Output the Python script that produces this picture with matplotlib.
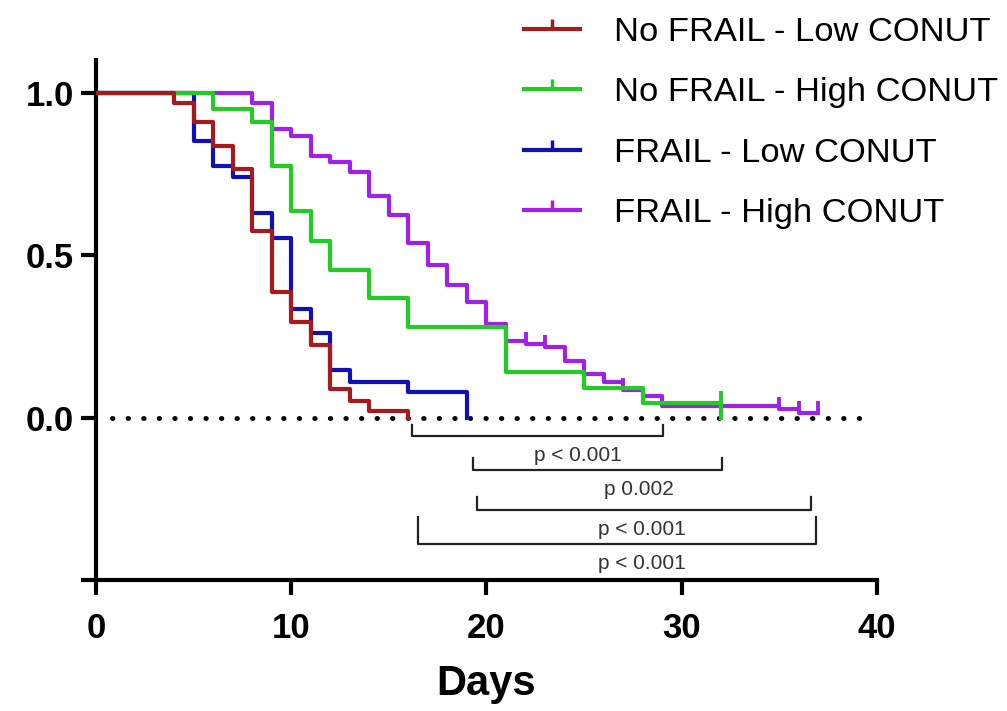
import matplotlib
matplotlib.use("Agg")
import matplotlib.pyplot as plt
from matplotlib.lines import Line2D
from matplotlib.markers import TICKUP

plt.rcParams['font.family'] = ['Liberation Sans', 'DejaVu Sans']

# Kaplan-Meier step data (days, survival)
red_t = [0, 4, 5, 6, 7, 8, 9, 10, 11, 12, 13, 14, 16]
red_s = [1.0, 0.970, 0.909, 0.835, 0.766, 0.575, 0.386, 0.294, 0.224, 0.089, 0.050, 0.022, 0.0]

blue_t = [0, 5, 6, 7, 8, 9, 10, 11, 12, 13, 16, 19]
blue_s = [1.0, 0.851, 0.774, 0.741, 0.629, 0.554, 0.336, 0.261, 0.148, 0.111, 0.079, 0.0]

green_t = [0, 6, 8, 9, 10, 11, 12, 14, 16, 21, 25, 28, 32]
green_s = [1.0, 0.950, 0.909, 0.774, 0.636, 0.544, 0.455, 0.367, 0.278, 0.140, 0.091, 0.046, 0.0]
green_cens_t = [32]
green_cens_s = [0.046]

purple_t = [0, 8, 9, 10, 11, 12, 13, 14, 15, 16, 17, 18, 19, 20, 21, 22, 23, 24,
            25, 26, 27, 28, 29, 35, 36, 37]
purple_s = [1.0, 0.970, 0.889, 0.866, 0.805, 0.786, 0.756, 0.684, 0.623, 0.539, 0.469,
            0.408, 0.357, 0.288, 0.237, 0.227, 0.217, 0.176, 0.135, 0.109, 0.084,
            0.067, 0.036, 0.026, 0.015, 0.015]
purple_cens_t = [22, 23, 27, 35, 36, 37]
purple_cens_s = [0.227, 0.217, 0.084, 0.026, 0.015, 0.015]

labels = ["No FRAIL - Low CONUT", "No FRAIL - High CONUT",
          "FRAIL - Low CONUT", "FRAIL - High CONUT"]
colors = ["#a51a1a", "#22cc22", "#1010b8", "#a020e8"]

# comparison brackets: (x_left, x_right, y_bottom, y_top)
brackets = [(16.2, 29.06, -0.056, -0.024),
            (19.3, 32.04, -0.162, -0.124),
            (19.5, 36.6, -0.284, -0.243),
            (16.5, 36.9, -0.390, -0.305)]
p_texts = ["p < 0.001", "p 0.002", "p < 0.001", "p < 0.001"]
p_pos = [(24.7, -0.116), (27.8, -0.221), (27.95, -0.343), (27.95, -0.448)]

fig = plt.figure(figsize=(10.07, 7.11), dpi=100)
ax = fig.add_axes([0.0953, 0.1842, 0.7756, 0.7308])

lw = 3.0
ax.step(purple_t, purple_s, where='post', color=colors[3], lw=lw, zorder=3)
ax.step(blue_t, blue_s, where='post', color=colors[2], lw=lw, zorder=4)
ax.step(green_t, green_s, where='post', color=colors[1], lw=lw, zorder=5)
ax.step(red_t, red_s, where='post', color=colors[0], lw=lw, zorder=6)
ax.plot(purple_cens_t, purple_cens_s, ls='none', marker=TICKUP, ms=9, mew=2.8,
        color=colors[3], zorder=3)
ax.plot(green_cens_t, green_cens_s, ls='none', marker=TICKUP, ms=9, mew=2.8,
        color=colors[1], zorder=5)

# dotted zero line
ax.plot([0.8, 39.4], [0, 0], color='black', lw=3.5, ls=(0, (0.1, 3.1)),
        dash_capstyle='round', zorder=2)

for (x0, x1, yb, yt), txt, (tx, ty) in zip(brackets, p_texts, p_pos):
    ax.plot([x0, x0, x1, x1], [yt, yb, yb, yt], color='#222222', lw=1.6, zorder=2)
    ax.text(tx, ty, txt, ha='center', va='center', fontsize=15, color='#333333')

ax.set_xlim(0, 40)
ax.set_ylim(-0.5, 1.1)
ax.set_xticks([0, 10, 20, 30, 40])
ax.set_yticks([-0.5, 0.0, 0.5, 1.0])
ax.set_yticklabels(['', '0.0', '0.5', '1.0'])
for lab in ax.get_xticklabels() + ax.get_yticklabels():
    lab.set_fontweight('bold')
ax.tick_params(axis='both', labelsize=25, width=3, length=11, colors='black')
ax.tick_params(axis='x', pad=12)
ax.tick_params(axis='y', pad=5)
ax.spines['top'].set_visible(False)
ax.spines['right'].set_visible(False)
ax.spines['left'].set_linewidth(3)
ax.spines['bottom'].set_linewidth(3)
ax.set_xlabel("Days", fontsize=30, fontweight='bold', labelpad=14)

handles = [Line2D([], [], color=c, lw=lw, marker=TICKUP, ms=7, mew=2.5) for c in colors]
fig.legend(handles, labels, loc='upper right', bbox_to_anchor=(1.022, 1.02),
           frameon=False, fontsize=24.8, handlelength=1.6, handletextpad=1.0,
           labelspacing=0.85, numpoints=1)

fig.savefig("out.png", dpi=100)
plt.close(fig)
